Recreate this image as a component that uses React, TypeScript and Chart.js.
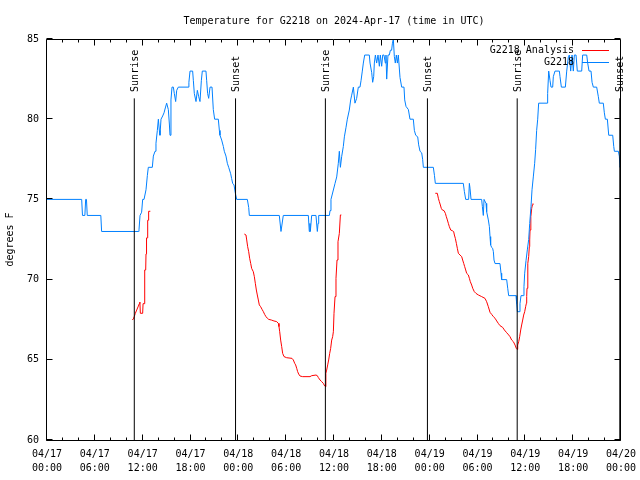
import { useEffect, useRef } from 'react';
import { Chart, registerables } from 'chart.js';

Chart.register(...registerables);

const FONT_FAMILY = '"DejaVu Sans Mono", "Liberation Mono", monospace';
const BLUE = '#0080ff';
const RED = '#ff0000';

const chartTitle = 'Temperature for G2218 on 2024-Apr-17 (time in UTC)';
const yAxisTitle = 'degrees F';
const observedLabel = 'G2218';
const analysisLabel = 'G2218 Analysis';

// hours since 2024-04-17 00:00 UTC
const xTickHours = [0, 6, 12, 18, 24, 30, 36, 42, 48, 54, 60, 66, 72];
const xTickDates = ['04/17', '04/17', '04/17', '04/17', '04/18', '04/18', '04/18', '04/18', '04/19', '04/19', '04/19', '04/19', '04/20'];
const xTickTimes = ['00:00', '06:00', '12:00', '18:00', '00:00', '06:00', '12:00', '18:00', '00:00', '06:00', '12:00', '18:00', '00:00'];
const xMinorTickHours = [2, 4, 8, 10, 14, 16, 20, 22, 26, 28, 32, 34, 38, 40, 44, 46, 50, 52, 56, 58, 62, 64, 68, 70];
const yTickValues = [60, 65, 70, 75, 80, 85];

const sunEventNames = ['Sunrise', 'Sunset', 'Sunrise', 'Sunset', 'Sunrise', 'Sunset'];
const sunEventHours = [10.95, 23.65, 34.92, 47.72, 58.98, 71.85];

// [hour, °F]
const observedSeries: [number, number][] = [
  [0, 75], [4.35, 75], [4.45, 74], [4.75, 74], [4.85, 75], [4.95, 75], [5.05, 74], [6.75, 74], [6.85, 73],
  [11.45, 73], [11.54, 73.1], [11.67, 74], [11.87, 74.2], [12.0, 75], [12.17, 75], [12.42, 75.6], [12.59, 76.5],
  [12.71, 77], [13.21, 77], [13.34, 77.7], [13.55, 78], [13.67, 78.5], [13.84, 79.3], [13.97, 80], [14.09, 79.3],
  [14.17, 79], [14.3, 80], [14.51, 80.2], [14.68, 80.4], [14.84, 80.7], [15.01, 81], [15.22, 80.6], [15.35, 79.7],
  [15.43, 79], [15.55, 81.2], [15.68, 82], [15.85, 82], [15.97, 81.6], [16.14, 81.1], [16.27, 81.8], [16.47, 82],
  [17.69, 82], [17.8, 82.3], [17.94, 83], [18.27, 83], [18.36, 82.4], [18.48, 81.6], [18.69, 81.1], [18.86, 81.8],
  [19.03, 81.4], [19.19, 81.1], [19.36, 82.4], [19.48, 83], [19.94, 83], [20.03, 82.4], [20.15, 81.6], [20.28, 81.3],
  [20.45, 82], [20.7, 82], [20.86, 80.6], [21.03, 80], [21.49, 80], [21.62, 79.3], [21.7, 79], [21.91, 78.7],
  [22.12, 78.3], [22.24, 78], [22.45, 77.7], [22.62, 77.25], [22.79, 77], [23.04, 76.6], [23.16, 76.3], [23.29, 76],
  [23.46, 75.9], [23.62, 75.4], [23.79, 75], [25.13, 75], [25.3, 74.5], [25.38, 74], [29.14, 74], [29.35, 73],
  [29.64, 74], [32.78, 74], [32.9, 73], [32.98, 73.5], [33.03, 73], [33.2, 74], [33.74, 74], [33.91, 73],
  [34.0, 73.5], [34.08, 74], [35.42, 74], [35.5, 74.3], [35.62, 75], [36.13, 76], [36.34, 76.4], [36.54, 77.25],
  [36.67, 78], [36.8, 77], [36.96, 77.66], [37.17, 78.3], [37.3, 78.9], [37.51, 79.5], [37.67, 80], [37.92, 80.57],
  [38.09, 81.2], [38.22, 81.5], [38.43, 82], [38.63, 81], [38.84, 81.3], [39.05, 82], [39.26, 82], [39.39, 82.4],
  [39.55, 83], [39.68, 83.5], [39.85, 84], [40.43, 84], [40.52, 83.5], [40.73, 82.9], [40.85, 82.3], [40.98, 82.65],
  [41.06, 83.5], [41.19, 84], [41.35, 83.5], [41.52, 84], [41.69, 83.3], [41.81, 84], [41.98, 83.3], [42.11, 84],
  [42.27, 84], [42.44, 83.5], [42.52, 84], [42.61, 82.5], [42.77, 84], [42.94, 84], [43.07, 84.3], [43.23, 84.3],
  [43.32, 84.7], [43.44, 85], [43.57, 83.9], [43.69, 83.5], [43.82, 84], [43.95, 83.5], [44.07, 84], [44.28, 82.6],
  [44.49, 82], [44.78, 82], [44.87, 81.2], [45.03, 80.8], [45.33, 80.6], [45.53, 80], [45.95, 80], [46.08, 79.3],
  [46.25, 79], [46.5, 78.9], [46.62, 78.4], [46.79, 78], [47.0, 77.9], [47.12, 77.5], [47.21, 77], [48.46, 77],
  [48.6, 76.5], [48.71, 76], [52.22, 76], [52.35, 75.5], [52.52, 75], [52.89, 75], [52.98, 76], [53.06, 75.7],
  [53.19, 75], [54.52, 75], [54.61, 74.55], [54.73, 74], [54.82, 75], [54.94, 75], [55.07, 74.75], [55.15, 74.23],
  [55.36, 73.72], [55.49, 73.3], [55.57, 72.68], [55.65, 72.16], [55.78, 72], [55.9, 71.95], [55.99, 71.74],
  [56.07, 71.22], [56.2, 71], [56.82, 71], [56.95, 70.4], [57.03, 70], [57.66, 70], [57.79, 69.46], [57.91, 69],
  [58.83, 69], [58.91, 68.5], [59.0, 68], [59.21, 68], [59.33, 68.5], [59.46, 69], [59.75, 69], [59.83, 69.56],
  [59.92, 70.4], [60.09, 71.2], [60.25, 71.85], [60.42, 72.5], [60.55, 73.5], [60.71, 74.55], [60.84, 75.6],
  [61.0, 76.4], [61.17, 77.25], [61.29, 78.1], [61.42, 79.3], [61.55, 80], [61.67, 81], [62.76, 81], [62.8, 81.6],
  [62.93, 83], [63.1, 82.4], [63.22, 82], [63.43, 82], [63.51, 82.65], [63.72, 83], [64.27, 83], [64.35, 82.65],
  [64.52, 82], [65.02, 82], [65.19, 83], [65.4, 83.9], [65.52, 84], [65.69, 83], [65.86, 84], [66.02, 83],
  [66.15, 84], [66.36, 84], [66.52, 83], [67.07, 83], [67.19, 84], [67.7, 84], [67.82, 83.5], [67.99, 83],
  [68.24, 83], [68.37, 82.3], [68.53, 82], [68.95, 82], [69.16, 81.4], [69.28, 81], [69.78, 81], [69.91, 80.4],
  [70.04, 80], [70.29, 80], [70.46, 79], [70.96, 79], [71.09, 78.3], [71.17, 78], [71.67, 78], [71.79, 77.7],
  [71.88, 77], [72, 77.3],
];

// [hour, °F]; null marks a gap between analysis runs
const analysisSeries: ([number, number] | null)[] = [
  [10.7, 67.48], [10.83, 67.55], [10.95, 67.7], [11.08, 67.9], [11.25, 68.1], [11.46, 68.35], [11.58, 68.5],
  [11.65, 68.6], [11.71, 67.9], [12.0, 67.9], [12.05, 68.5], [12.17, 68.5], [12.21, 69.5], [12.27, 69.5],
  [12.29, 70.6], [12.38, 70.6], [12.42, 71.6], [12.47, 71.6], [12.5, 72.6], [12.6, 72.6], [12.63, 73.7],
  [12.72, 73.7], [12.75, 74.26], [12.96, 74.26],
  null,
  [24.75, 72.84], [24.96, 72.78], [25.05, 72.47], [25.17, 72.05], [25.3, 71.74], [25.42, 71.33], [25.55, 71.01],
  [25.67, 70.7], [25.88, 70.49], [26.01, 70.18], [26.13, 69.77], [26.26, 69.35], [26.38, 69.04], [26.51, 68.73],
  [26.63, 68.42], [26.8, 68.31], [26.97, 68.15], [27.14, 68.0], [27.3, 67.83], [27.47, 67.69], [27.64, 67.59],
  [27.81, 67.52], [28.14, 67.48], [28.47, 67.42], [28.81, 67.38], [29.02, 67.27], [29.1, 67.07], [29.19, 66.75],
  [29.31, 66.23], [29.44, 65.82], [29.56, 65.4], [29.73, 65.2], [30.06, 65.13], [30.73, 65.09], [30.9, 64.99],
  [31.07, 64.78], [31.19, 64.68], [31.32, 64.47], [31.44, 64.26], [31.57, 64.11], [31.74, 63.99], [32.07, 63.95],
  [32.99, 63.95], [33.2, 64.01], [33.74, 64.05], [33.91, 64.01], [34.04, 63.89], [34.25, 63.74], [34.45, 63.64],
  [34.66, 63.53], [34.83, 63.37], [34.96, 63.32], [34.98, 64.16], [35.08, 64.36], [35.21, 64.68], [35.33, 64.99],
  [35.46, 65.4], [35.58, 65.71], [35.71, 66.23], [35.83, 66.44], [35.92, 66.75], [36.0, 67.9], [36.13, 68.94],
  [36.25, 70.08], [36.38, 71.22], [36.5, 72.36], [36.67, 72.88], [36.8, 74.03], [36.92, 74.03],
  null,
  [48.71, 75.38], [48.96, 75.38], [49.09, 75.07], [49.21, 74.86], [49.34, 74.65], [49.46, 74.44], [49.59, 74.34],
  [49.8, 74.3], [49.97, 74.13], [50.09, 73.92], [50.22, 73.72], [50.34, 73.51], [50.47, 73.3], [50.64, 73.09],
  [50.84, 73.05], [51.01, 72.99], [51.1, 72.78], [51.22, 72.57], [51.35, 72.26], [51.47, 71.95], [51.6, 71.64],
  [51.81, 71.53], [52.02, 71.43], [52.14, 71.22], [52.27, 71.01], [52.39, 70.81], [52.52, 70.6], [52.64, 70.39],
  [52.85, 70.29], [52.98, 70.08], [53.1, 69.87], [53.27, 69.66], [53.4, 69.46], [53.6, 69.25], [53.81, 69.14],
  [54.11, 69.04], [54.52, 68.94], [54.94, 68.83], [55.15, 68.62], [55.36, 68.31], [55.57, 67.96], [55.78, 67.83],
  [55.99, 67.69], [56.2, 67.59], [56.41, 67.42], [56.61, 67.27], [56.82, 67.13], [57.16, 67.02], [57.37, 66.86],
  [57.66, 66.69], [57.91, 66.55], [58.08, 66.44], [58.29, 66.23], [58.5, 66.13], [58.71, 65.92], [58.87, 65.71],
  [58.96, 65.65], [59.04, 65.92], [59.17, 66.13], [59.29, 66.44], [59.42, 66.86], [59.54, 67.17], [59.67, 67.48],
  [59.79, 67.79], [59.92, 68.0], [60.04, 68.31], [60.13, 68.52], [60.17, 68.94], [60.21, 69.46], [60.29, 70.39],
  [60.33, 71.01], [60.42, 71.43], [60.5, 72.05], [60.55, 72.47], [60.59, 73.09], [60.67, 73.51], [60.71, 73.92],
  [60.8, 74.44], [60.88, 74.65], [60.96, 74.75],
];

const EVENT_LINE_TOP = 81.3;
const EVENT_LABEL_BASE = 81.7;

const decorPlugin = {
  id: 'gnuplotDecor',
  afterDraw(chart: any) {
    const { ctx, chartArea: a } = chart;
    const xs = chart.scales.x;
    const ys = chart.scales.y;
    ctx.save();
    ctx.strokeStyle = '#000';
    ctx.fillStyle = '#000';
    ctx.lineWidth = 1;
    const L = a.left - 0.5;
    const R = a.right - 0.5;
    const T = a.top + 0.5;
    const B = a.bottom + 0.5;
    ctx.beginPath();
    ctx.rect(L, T, R - L, B - T);
    const crisp = (v: number) => Math.round(v) - 0.5;
    xTickHours.forEach((h) => {
      const px = crisp(xs.getPixelForValue(h));
      ctx.moveTo(px, B); ctx.lineTo(px, B - 6);
      ctx.moveTo(px, T); ctx.lineTo(px, T + 6);
    });
    xMinorTickHours.forEach((h) => {
      const px = crisp(xs.getPixelForValue(h));
      ctx.moveTo(px, B); ctx.lineTo(px, B - 3);
      ctx.moveTo(px, T); ctx.lineTo(px, T + 3);
    });
    yTickValues.forEach((v) => {
      const py = crisp(ys.getPixelForValue(v));
      ctx.moveTo(L, py); ctx.lineTo(L + 6, py);
      ctx.moveTo(R, py); ctx.lineTo(R - 6, py);
    });
    ctx.stroke();

    ctx.font = `10px ${FONT_FAMILY}`;
    sunEventHours.forEach((h, i) => {
      const px = xs.getPixelForValue(h);
      const py = ys.getPixelForValue(EVENT_LABEL_BASE);
      ctx.save();
      ctx.translate(px + 1, py);
      ctx.rotate(-Math.PI / 2);
      ctx.textAlign = 'left';
      ctx.textBaseline = 'middle';
      ctx.fillText(sunEventNames[i], 0, 0);
      ctx.restore();
    });

    const entries = [
      { label: analysisLabel, color: RED },
      { label: observedLabel, color: BLUE },
    ];
    entries.forEach((e, i) => {
      const y = a.top + 11 + i * 12;
      ctx.fillStyle = '#000';
      ctx.textAlign = 'right';
      ctx.textBaseline = 'middle';
      ctx.fillText(e.label, a.right - 47, y);
      ctx.strokeStyle = e.color;
      ctx.beginPath();
      ctx.moveTo(a.right - 39, Math.round(y) + 0.5);
      ctx.lineTo(a.right - 12, Math.round(y) + 0.5);
      ctx.stroke();
    });
    ctx.restore();
  },
};

export default function App() {
  const canvasRef = useRef<HTMLCanvasElement>(null);

  useEffect(() => {
    document.body.style.margin = '0';
    const canvas = canvasRef.current;
    if (!canvas) return;

    const eventPoints: { x: number; y: number | null }[] = [];
    sunEventHours.forEach((h) => {
      eventPoints.push({ x: h, y: 60 }, { x: h, y: EVENT_LINE_TOP }, { x: h, y: null });
    });
    const observedPoints = observedSeries.map(([h, v]) => ({ x: h, y: v }));
    let lastX = 0;
    const analysisPoints = analysisSeries.map((p) => {
      if (p === null) return { x: lastX, y: null };
      lastX = p[0];
      return { x: p[0], y: p[1] };
    });

    const tickFont = { family: FONT_FAMILY, size: 10, weight: 'normal' as const };

    const chart = new Chart(canvas, {
      type: 'line',
      data: {
        datasets: [
          { label: 'events', data: eventPoints as any, borderColor: '#000', borderWidth: 1, pointRadius: 0, spanGaps: false, tension: 0 },
          { label: observedLabel, data: observedPoints, borderColor: BLUE, borderWidth: 1, pointRadius: 0, tension: 0 },
          { label: analysisLabel, data: analysisPoints as any, borderColor: RED, borderWidth: 1, pointRadius: 0, spanGaps: false, tension: 0 },
        ],
      },
      options: {
        responsive: false,
        animation: false,
        devicePixelRatio: 1,
        layout: { padding: { top: 0, right: 19, bottom: 0, left: 0 } },
        plugins: {
          legend: { display: false },
          tooltip: { enabled: false },
          title: {
            display: true,
            text: chartTitle,
            fullSize: false,
            color: '#000',
            font: { ...tickFont, lineHeight: 1.2 },
            padding: { top: 15, bottom: 12 },
          },
        },
        scales: {
          x: {
            type: 'linear',
            min: 0,
            max: 72,
            grid: { display: false, drawTicks: false },
            border: { display: false },
            afterBuildTicks: (s: any) => { s.ticks = xTickHours.map((v) => ({ value: v })); },
            afterFit: (s: any) => { s.height = 40; s.paddingRight = 0; s.paddingLeft = 0; },
            ticks: {
              autoSkip: false,
              maxRotation: 0,
              minRotation: 0,
              padding: 7,
              color: '#000',
              font: { ...tickFont, lineHeight: 1.4 },
              callback: (v: any) => {
                const i = xTickHours.indexOf(Number(v));
                return [xTickDates[i], xTickTimes[i]];
              },
            },
          },
          y: {
            type: 'linear',
            min: 60,
            max: 85,
            grid: { display: false, drawTicks: false },
            border: { display: false },
            afterBuildTicks: (s: any) => { s.ticks = yTickValues.map((v) => ({ value: v })); },
            afterFit: (s: any) => { s.width = 47; s.paddingTop = 0; s.paddingBottom = 0; },
            ticks: {
              padding: 8,
              color: '#000',
              font: tickFont,
              callback: (v: any) => String(v),
            },
            title: {
              display: true,
              text: yAxisTitle,
              color: '#000',
              font: { ...tickFont, lineHeight: 1.2 },
              padding: { top: 4, bottom: 4 },
            },
          },
        },
      },
      plugins: [decorPlugin],
    });

    return () => chart.destroy();
  }, []);

  return (
    <div style={{ width: 640, height: 480, background: '#fff' }}>
      <canvas ref={canvasRef} width={640} height={480} style={{ display: 'block' }} />
    </div>
  );
}
